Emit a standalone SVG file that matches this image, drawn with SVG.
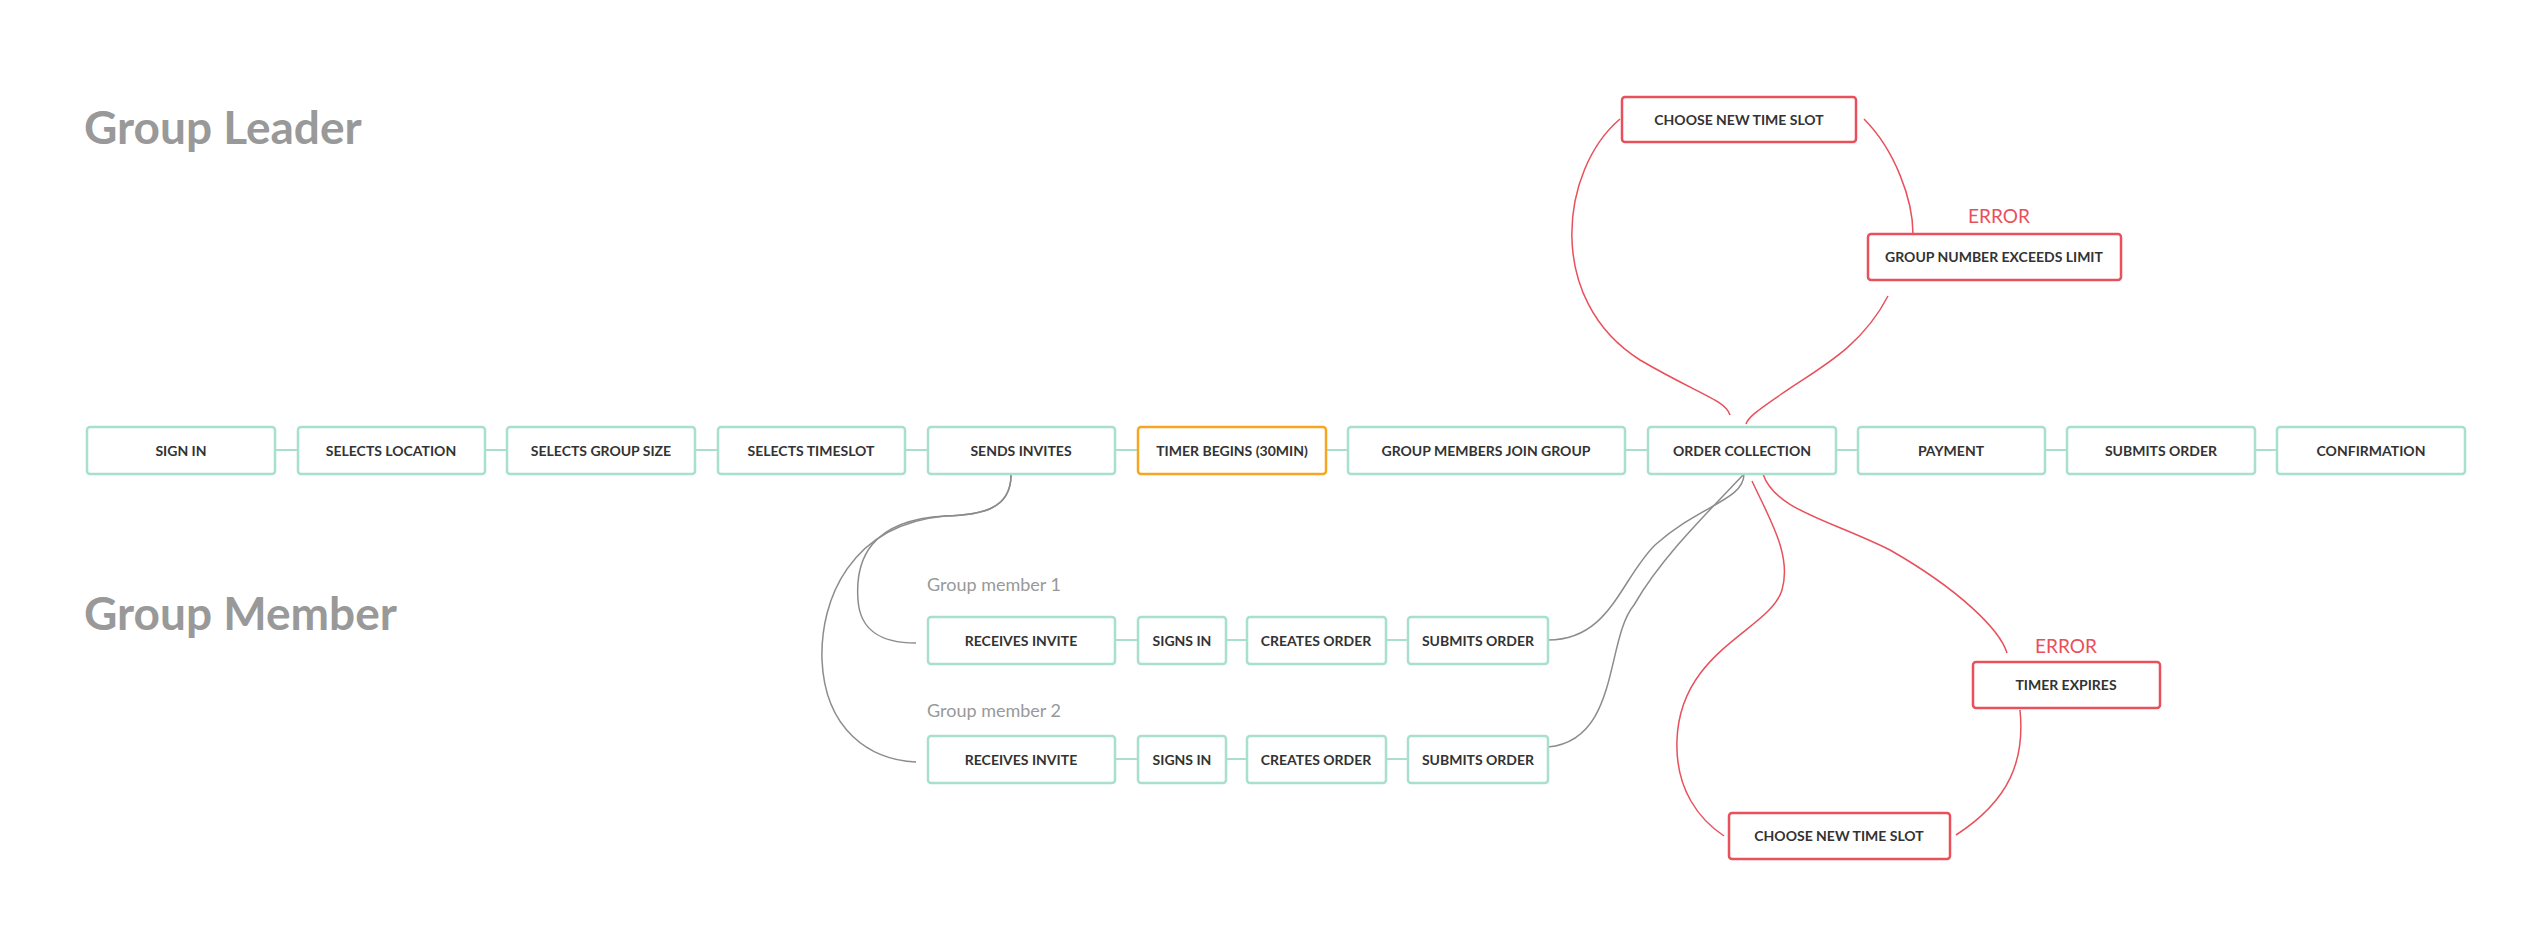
<svg xmlns="http://www.w3.org/2000/svg" width="2532" height="938" viewBox="0 0 2532 938">
<style>
.b rect{fill:#fff;stroke:#a8dfcf;stroke-width:2.5}
.o rect{fill:#fff;stroke:#f5a623;stroke-width:2.5}
.r rect{fill:#fff;stroke:#e8505b;stroke-width:2.5}
text{font-family:Lato,"Liberation Sans",sans-serif}
.t{font-size:14px;font-weight:700;fill:#333;text-anchor:middle}
.h{font-size:46px;font-weight:700;fill:#999}
.s{font-size:18px;fill:#999}
.e{font-size:19px;fill:#e8505b;text-anchor:middle}
.ln{stroke:#a8dfcf;stroke-width:2;fill:none}
.g{stroke:#8c8c8c;stroke-width:1.5;fill:none}
.rd{stroke:#e8505b;stroke-width:1.5;fill:none}
</style>
<rect width="2532" height="938" fill="#fff"/>
<text class="h" x="84" y="144">Group Leader</text>
<text class="h" x="84" y="630">Group Member</text>
<text class="s" x="927" y="591">Group member 1</text>
<text class="s" x="927" y="717">Group member 2</text>
<text class="e" x="1999" y="223">ERROR</text>
<text class="e" x="2066" y="653">ERROR</text>
<g id="connectors">
<path class="ln" d="M275,450H298M485,450H507M695,450H718M905,450H928M1115,450H1138M1326,450H1348M1625,450H1648M1836,450H1858M2045,450H2067M2255,450H2277"/>
<path class="ln" d="M1115,640H1138M1226,640H1247M1386,640H1408M1115,759H1138M1226,759H1247M1386,759H1408"/>
<path class="g" d="M1011,475C1011,510 980,515 945,516C870,520 855,560 858,600C860,630 880,643 916,643"/>
<path class="g" d="M1011,475C1011,510 980,515 945,516C850,525 820,600 822,660C825,730 870,760 916,762"/>
<path class="g" d="M1548,640C1610,640 1620,580 1655,545C1700,505 1744,500 1744,474"/>
<path class="g" d="M1548,747C1620,740 1605,640 1634,605C1660,560 1700,520 1744,474"/>
<path class="rd" d="M1620,119C1560,170 1545,300 1640,360C1700,395 1725,400 1730,415"/>
<path class="rd" d="M1864,119C1895,150 1913,200 1913,234"/>
<path class="rd" d="M1888,296C1860,350 1815,370 1780,395C1755,412 1748,418 1746,424"/>
<path class="rd" d="M1752,481C1770,520 1792,555 1782,590C1770,630 1680,650 1677,740C1675,790 1700,820 1724,836"/>
<path class="rd" d="M1763,474C1775,510 1830,520 1890,550C1960,590 2000,630 2007,653"/>
<path class="rd" d="M2020,710C2025,760 2010,800 1956,835"/>
</g>
<g id="n1" class="b"><rect x="87" y="427" width="188" height="47" rx="3"/><text class="t" x="181" y="456">SIGN IN</text></g>
<g id="n2" class="b"><rect x="298" y="427" width="187" height="47" rx="3"/><text class="t" x="391" y="456">SELECTS LOCATION</text></g>
<g id="n3" class="b"><rect x="507" y="427" width="188" height="47" rx="3"/><text class="t" x="601" y="456">SELECTS GROUP SIZE</text></g>
<g id="n4" class="b"><rect x="718" y="427" width="187" height="47" rx="3"/><text class="t" x="811" y="456">SELECTS TIMESLOT</text></g>
<g id="n5" class="b"><rect x="928" y="427" width="187" height="47" rx="3"/><text class="t" x="1021" y="456">SENDS INVITES</text></g>
<g id="n6" class="o"><rect x="1138" y="427" width="188" height="47" rx="3"/><text class="t" x="1232" y="456">TIMER BEGINS (30MIN)</text></g>
<g id="n7" class="b"><rect x="1348" y="427" width="277" height="47" rx="3"/><text class="t" x="1486" y="456">GROUP MEMBERS JOIN GROUP</text></g>
<g id="n8" class="b"><rect x="1648" y="427" width="188" height="47" rx="3"/><text class="t" x="1742" y="456">ORDER COLLECTION</text></g>
<g id="n9" class="b"><rect x="1858" y="427" width="187" height="47" rx="3"/><text class="t" x="1951" y="456">PAYMENT</text></g>
<g id="n10" class="b"><rect x="2067" y="427" width="188" height="47" rx="3"/><text class="t" x="2161" y="456">SUBMITS ORDER</text></g>
<g id="n11" class="b"><rect x="2277" y="427" width="188" height="47" rx="3"/><text class="t" x="2371" y="456">CONFIRMATION</text></g>
<g id="m1a" class="b"><rect x="928" y="617" width="187" height="47" rx="3"/><text class="t" x="1021" y="646">RECEIVES INVITE</text></g>
<g id="m1b" class="b"><rect x="1138" y="617" width="88" height="47" rx="3"/><text class="t" x="1182" y="646">SIGNS IN</text></g>
<g id="m1c" class="b"><rect x="1247" y="617" width="139" height="47" rx="3"/><text class="t" x="1316" y="646">CREATES ORDER</text></g>
<g id="m1d" class="b"><rect x="1408" y="617" width="140" height="47" rx="3"/><text class="t" x="1478" y="646">SUBMITS ORDER</text></g>
<g id="m2a" class="b"><rect x="928" y="736" width="187" height="47" rx="3"/><text class="t" x="1021" y="765">RECEIVES INVITE</text></g>
<g id="m2b" class="b"><rect x="1138" y="736" width="88" height="47" rx="3"/><text class="t" x="1182" y="765">SIGNS IN</text></g>
<g id="m2c" class="b"><rect x="1247" y="736" width="139" height="47" rx="3"/><text class="t" x="1316" y="765">CREATES ORDER</text></g>
<g id="m2d" class="b"><rect x="1408" y="736" width="140" height="47" rx="3"/><text class="t" x="1478" y="765">SUBMITS ORDER</text></g>
<g id="r1" class="r"><rect x="1622" y="97" width="234" height="45" rx="3"/><text class="t" x="1739" y="125">CHOOSE NEW TIME SLOT</text></g>
<g id="r2" class="r"><rect x="1868" y="234" width="253" height="46" rx="3"/><text class="t" x="1994" y="262">GROUP NUMBER EXCEEDS LIMIT</text></g>
<g id="r3" class="r"><rect x="1973" y="662" width="187" height="46" rx="3"/><text class="t" x="2066" y="690">TIMER EXPIRES</text></g>
<g id="r4" class="r"><rect x="1729" y="813" width="221" height="46" rx="3"/><text class="t" x="1839" y="841">CHOOSE NEW TIME SLOT</text></g>
</svg>
